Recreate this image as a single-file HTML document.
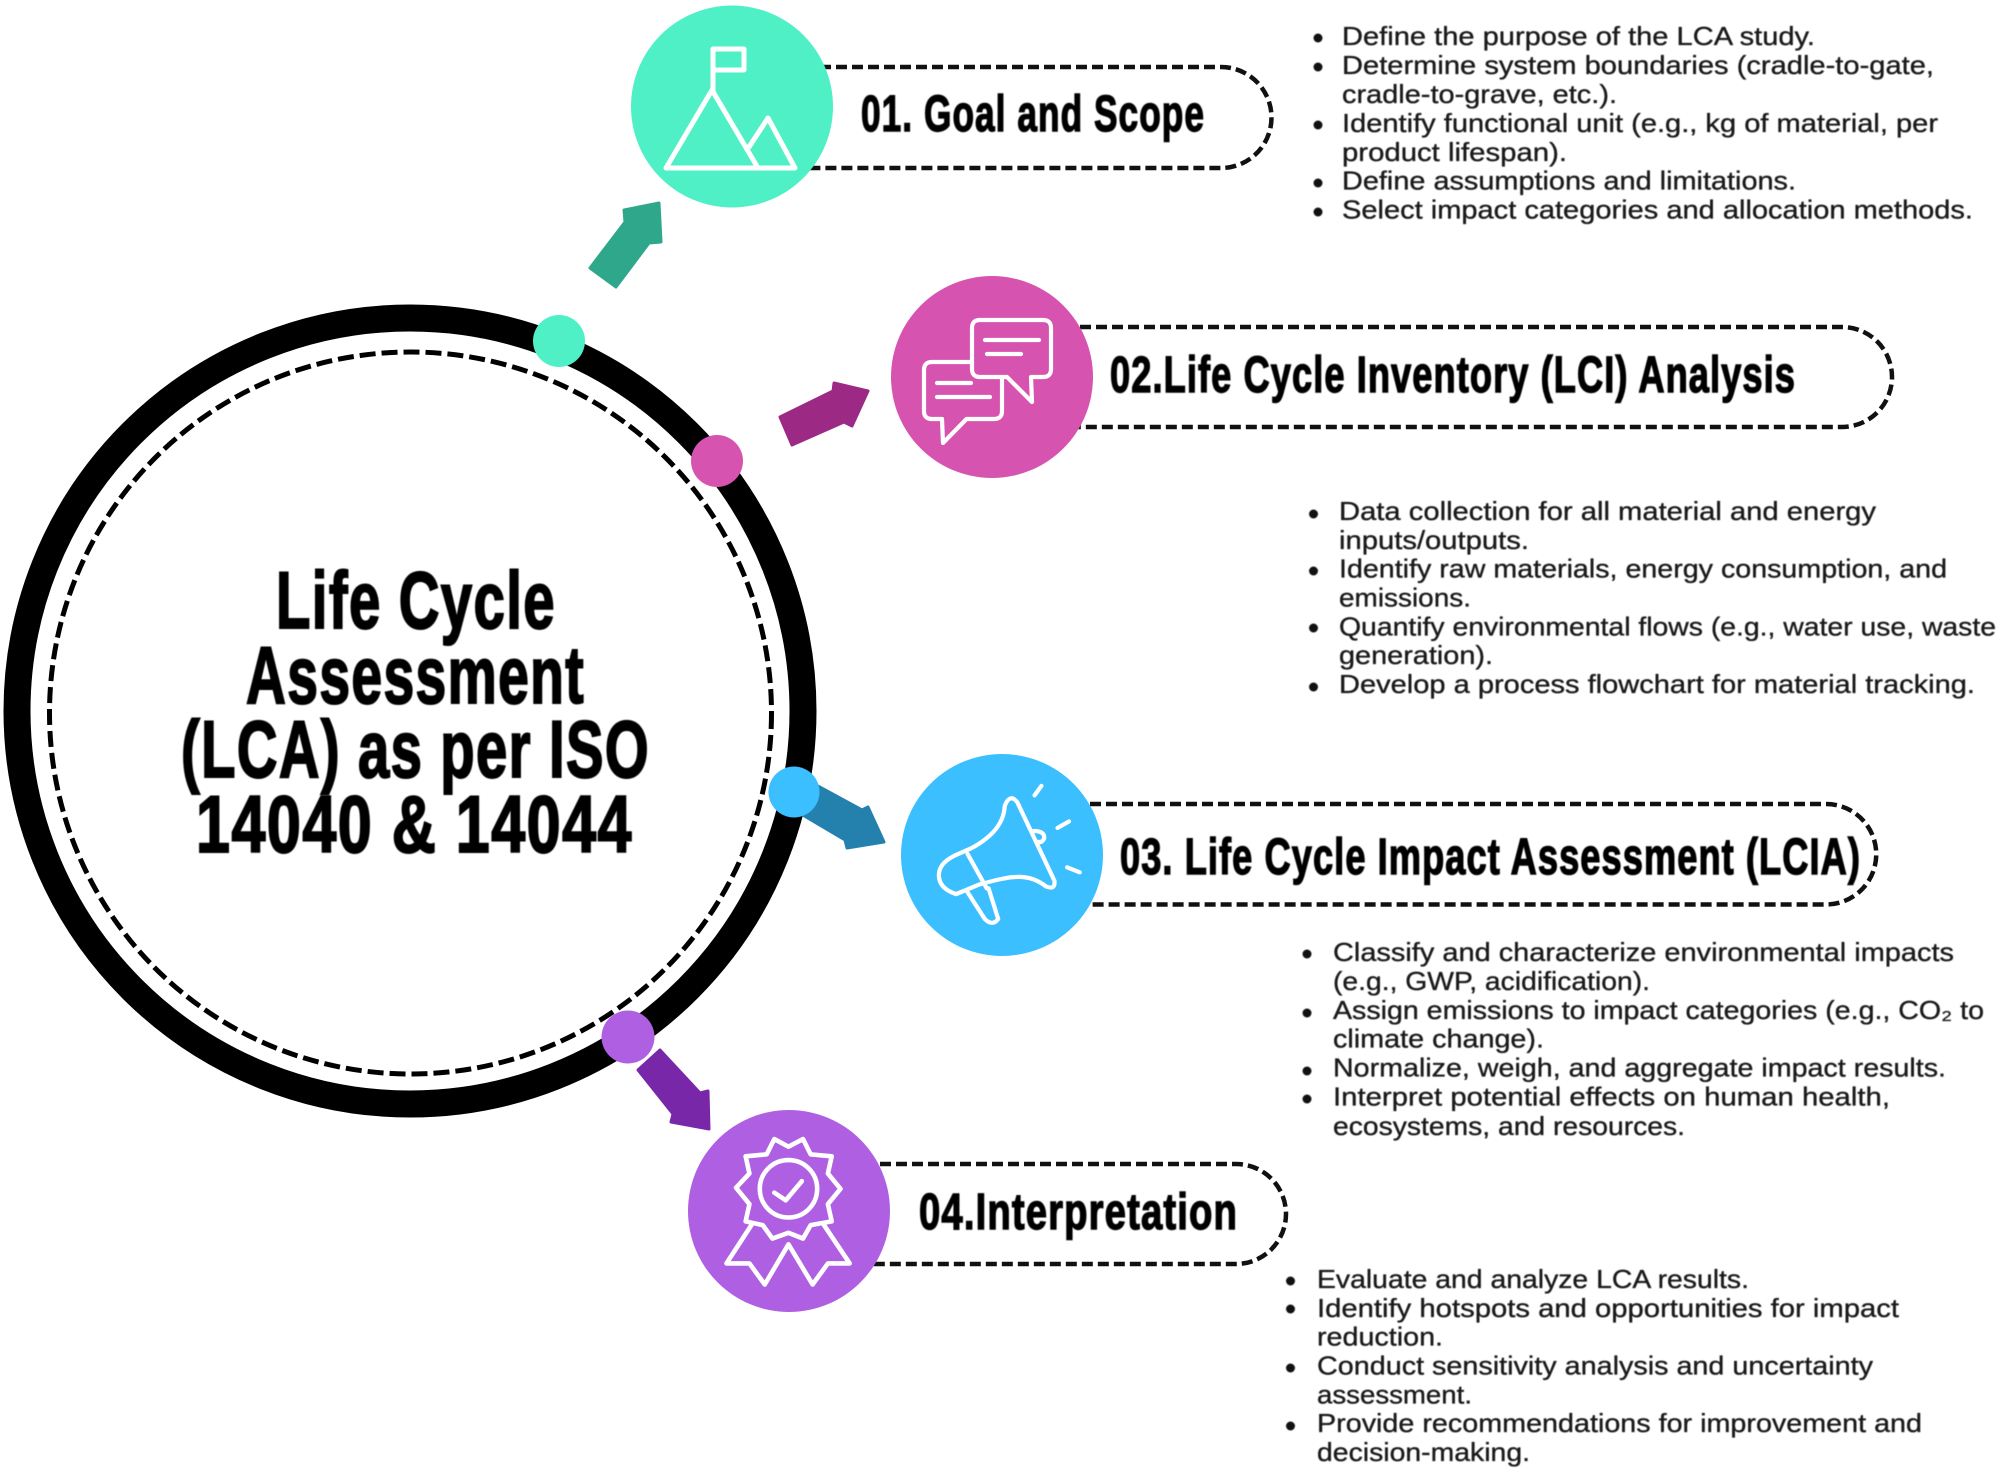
<!DOCTYPE html>
<html lang="en">
<head>
<meta charset="utf-8">
<title>Life Cycle Assessment (LCA) as per ISO 14040 &amp; 14044</title>
<style>
html,body{margin:0;padding:0;background:#fff;width:2000px;height:1471px;overflow:hidden}
svg{display:block}
.h{font-family:"Liberation Sans Narrow","Liberation Sans",sans-serif;font-weight:700;fill:#000;stroke:#000;stroke-width:1.4}
.t{font-size:81px;stroke-width:2;letter-spacing:2px}
.l{font-size:51px;letter-spacing:1.5px}
.b{font-family:"Liberation Sans",sans-serif;font-size:26px;fill:#1a1a1a;stroke:#1a1a1a;stroke-width:.35}
.blur{filter:blur(.5px)}
.pill{fill:none;stroke:#111;stroke-width:4.5;stroke-dasharray:11 5}
.ic{fill:none;stroke:#fff;stroke-linecap:round;stroke-linejoin:round}
</style>
</head>
<body>
<svg xmlns="http://www.w3.org/2000/svg" width="2000" height="1471" viewBox="0 0 2000 1471">
<rect width="2000" height="1471" fill="#fff"/>

<!-- central rings -->
<circle cx="410" cy="711" r="393" fill="#fff" stroke="#000" stroke-width="27"/>
<circle cx="410.5" cy="713" r="361" fill="none" stroke="#000" stroke-width="5" stroke-dasharray="16 6"/>

<!-- title -->
<g class="blur">
<text class="h t" x="276" y="628" textLength="280" lengthAdjust="spacingAndGlyphs">Life Cycle</text>
<text class="h t" x="246" y="703" textLength="339" lengthAdjust="spacingAndGlyphs">Assessment</text>
<text class="h t" x="181" y="777" textLength="469" lengthAdjust="spacingAndGlyphs">(LCA) as per ISO</text>
<text class="h t" x="196" y="852" textLength="437" lengthAdjust="spacingAndGlyphs">14040 &amp; 14044</text>
</g>

<!-- arrows -->
<polygon points="590,268 625,222 624,210 659,203 661,242 649,243 616,287" fill="#2fa78a" stroke="#2fa78a" stroke-width="3" stroke-linejoin="round"/>
<polygon points="780,417 833,391 834,383 868,391 852,426 844,422 792,445" fill="#9c2a85" stroke="#9c2a85" stroke-width="3" stroke-linejoin="round"/>
<polygon points="816,785 862,810 868,807 884,842 847,848 845,840 801,814" fill="#2481ae" stroke="#2481ae" stroke-width="3" stroke-linejoin="round"/>
<polygon points="660,1050 700,1093 708,1091 709,1129 671,1122 673,1114 638,1070" fill="#7827a8" stroke="#7827a8" stroke-width="3" stroke-linejoin="round"/>

<!-- dots on ring -->
<circle cx="559" cy="341" r="26" fill="#4ff0c6"/>
<circle cx="717" cy="461" r="26" fill="#d653b0"/>
<circle cx="794" cy="792" r="25.500" fill="#3bbfff"/>
<circle cx="628" cy="1037" r="26.500" fill="#af60e2"/>

<!-- pills -->
<path class="pill" d="M740 67H1221A50.500 50.500 0 0 1 1221 168H740"/>
<path class="pill" d="M1000 327H1842A50 50 0 0 1 1842 427H1000"/>
<path class="pill" d="M1010 804H1826A50.250 50.250 0 0 1 1826 904.500H1010"/>
<path class="pill" d="M800 1164H1236A50 50 0 0 1 1236 1264H800"/>

<!-- big circles -->
<circle cx="732" cy="106.500" r="101" fill="#4ff0c6"/>
<circle cx="992" cy="377" r="101" fill="#d653b0"/>
<circle cx="1002" cy="855" r="101" fill="#3bbfff"/>
<circle cx="789" cy="1211" r="101" fill="#af60e2"/>

<!-- icon 1: mountains and flag -->
<g class="ic" stroke-width="5">
<path d="M713 90V49H744V70H713"/>
<path d="M712 90L666 168H795L768 118L749 147M712 90L758 168"/>
</g>

<!-- icon 2: speech bubbles -->
<g class="ic" stroke-width="4.200">
<path d="M932 362H994Q1002 362 1002 370V411Q1002 419 994 419H966.500L943 443L942 419H932Q924 419 924 411V370Q924 362 932 362Z"/>
<path d="M980 320H1043Q1051 320 1051 328V369Q1051 377 1043 377H1031L1032 402L1007 377H980Q972 377 972 369V328Q972 320 980 320Z" fill="#d653b0"/>
<path d="M985 340H1039M987 354H1021M937 383H971M937 397H990"/>
</g>

<!-- icon 3: megaphone -->
<g class="ic" transform="translate(560 720) scale(.3827)" stroke-width="11">
<path d="M1162 225Q1175 190 1195 215L1292 420Q1295 445 1270 435C1220 395 1170 410 1095 430L1035 455Q990 440 990 405Q990 375 1030 355L1075 335C1130 305 1160 270 1162 225Z"/>
<path d="M1065 350L1115 440M1065 450L1110 520Q1130 540 1145 520L1120 440"/>
<path d="M1238 290Q1268 290 1265 310Q1258 322 1250 318"/>
<path d="M1240 197L1258 172M1300 282L1330 265M1325 385L1358 398"/>
</g>

<!-- icon 4: award rosette -->
<g class="ic" transform="translate(560 720) scale(.3827)" stroke-width="12">
<circle cx="597" cy="1225" r="75"/>
<path d="M560 1235L590 1255L632 1205"/>
<path d="M560 1095L597 1115L635 1095L655 1135L710 1140L700 1185L733 1225L700 1265L710 1310L655 1320L635 1355L597 1340L555 1355L530 1320L485 1310L495 1265L460 1222L495 1185L485 1140L540 1135Z"/>
<path d="M500 1320L435 1420H495L535 1475L597 1370L660 1475L700 1420H757L690 1320"/>
</g>

<!-- pill labels -->
<g class="blur">
<text class="h l" x="861" y="131" textLength="344" lengthAdjust="spacingAndGlyphs">01. Goal and Scope</text>
<text class="h l" x="1110" y="392" textLength="686" lengthAdjust="spacingAndGlyphs">02.Life Cycle Inventory (LCI) Analysis</text>
<text class="h l" x="1120" y="874" textLength="741" lengthAdjust="spacingAndGlyphs">03. Life Cycle Impact Assessment (LCIA)</text>
<text class="h l" x="919" y="1229" textLength="319" lengthAdjust="spacingAndGlyphs">04.Interpretation</text>
</g>

<!-- body text -->
<g class="blur">
<g fill="#111">
<circle cx="1318" cy="38" r="4.500"/><circle cx="1318" cy="67" r="4.500"/><circle cx="1318" cy="125" r="4.500"/><circle cx="1318" cy="183" r="4.500"/><circle cx="1318" cy="212" r="4.500"/>
<circle cx="1313.500" cy="514" r="4.500"/><circle cx="1313.500" cy="571" r="4.500"/><circle cx="1313.500" cy="628" r="4.500"/><circle cx="1313.500" cy="687" r="4.500"/>
<circle cx="1307" cy="954" r="4.500"/><circle cx="1307" cy="1013" r="4.500"/><circle cx="1307" cy="1071" r="4.500"/><circle cx="1307" cy="1099" r="4.500"/>
<circle cx="1290.500" cy="1281" r="4.500"/><circle cx="1290.500" cy="1309" r="4.500"/><circle cx="1290.500" cy="1368" r="4.500"/><circle cx="1290.500" cy="1426" r="4.500"/>
</g>

<text class="b" x="1342" y="45" textLength="473" lengthAdjust="spacingAndGlyphs">Define the purpose of the LCA study.</text>
<text class="b" x="1342" y="74" textLength="592" lengthAdjust="spacingAndGlyphs">Determine system boundaries (cradle-to-gate,</text>
<text class="b" x="1342" y="103" textLength="275" lengthAdjust="spacingAndGlyphs">cradle-to-grave, etc.).</text>
<text class="b" x="1342" y="132" textLength="596" lengthAdjust="spacingAndGlyphs">Identify functional unit (e.g., kg of material, per</text>
<text class="b" x="1342" y="161" textLength="225" lengthAdjust="spacingAndGlyphs">product lifespan).</text>
<text class="b" x="1342" y="189.500" textLength="454" lengthAdjust="spacingAndGlyphs">Define assumptions and limitations.</text>
<text class="b" x="1342" y="218.500" textLength="631" lengthAdjust="spacingAndGlyphs">Select impact categories and allocation methods.</text>

<text class="b" x="1339" y="520" textLength="537" lengthAdjust="spacingAndGlyphs">Data collection for all material and energy</text>
<text class="b" x="1339" y="549" textLength="190" lengthAdjust="spacingAndGlyphs">inputs/outputs.</text>
<text class="b" x="1339" y="577.500" textLength="608" lengthAdjust="spacingAndGlyphs">Identify raw materials, energy consumption, and</text>
<text class="b" x="1339" y="606.500" textLength="132" lengthAdjust="spacingAndGlyphs">emissions.</text>
<text class="b" x="1339" y="635.500" textLength="657" lengthAdjust="spacingAndGlyphs">Quantify environmental flows (e.g., water use, waste</text>
<text class="b" x="1339" y="664" textLength="154" lengthAdjust="spacingAndGlyphs">generation).</text>
<text class="b" x="1339" y="693" textLength="636" lengthAdjust="spacingAndGlyphs">Develop a process flowchart for material tracking.</text>

<text class="b" x="1333" y="961" textLength="621" lengthAdjust="spacingAndGlyphs">Classify and characterize environmental impacts</text>
<text class="b" x="1333" y="990" textLength="317" lengthAdjust="spacingAndGlyphs">(e.g., GWP, acidification).</text>
<text class="b" x="1333" y="1019" textLength="651" lengthAdjust="spacingAndGlyphs">Assign emissions to impact categories (e.g., CO₂ to</text>
<text class="b" x="1333" y="1047.500" textLength="211" lengthAdjust="spacingAndGlyphs">climate change).</text>
<text class="b" x="1333" y="1076.500" textLength="613" lengthAdjust="spacingAndGlyphs">Normalize, weigh, and aggregate impact results.</text>
<text class="b" x="1333" y="1105.500" textLength="557" lengthAdjust="spacingAndGlyphs">Interpret potential effects on human health,</text>
<text class="b" x="1333" y="1135" textLength="352" lengthAdjust="spacingAndGlyphs">ecosystems, and resources.</text>

<text class="b" x="1317" y="1288" textLength="432" lengthAdjust="spacingAndGlyphs">Evaluate and analyze LCA results.</text>
<text class="b" x="1317" y="1317" textLength="582" lengthAdjust="spacingAndGlyphs">Identify hotspots and opportunities for impact</text>
<text class="b" x="1317" y="1345.500" textLength="126" lengthAdjust="spacingAndGlyphs">reduction.</text>
<text class="b" x="1317" y="1374.500" textLength="556" lengthAdjust="spacingAndGlyphs">Conduct sensitivity analysis and uncertainty</text>
<text class="b" x="1317" y="1403.500" textLength="155" lengthAdjust="spacingAndGlyphs">assessment.</text>
<text class="b" x="1317" y="1432" textLength="605" lengthAdjust="spacingAndGlyphs">Provide recommendations for improvement and</text>
<text class="b" x="1317" y="1461" textLength="213" lengthAdjust="spacingAndGlyphs">decision-making.</text>
</g>
</svg>
</body>
</html>
